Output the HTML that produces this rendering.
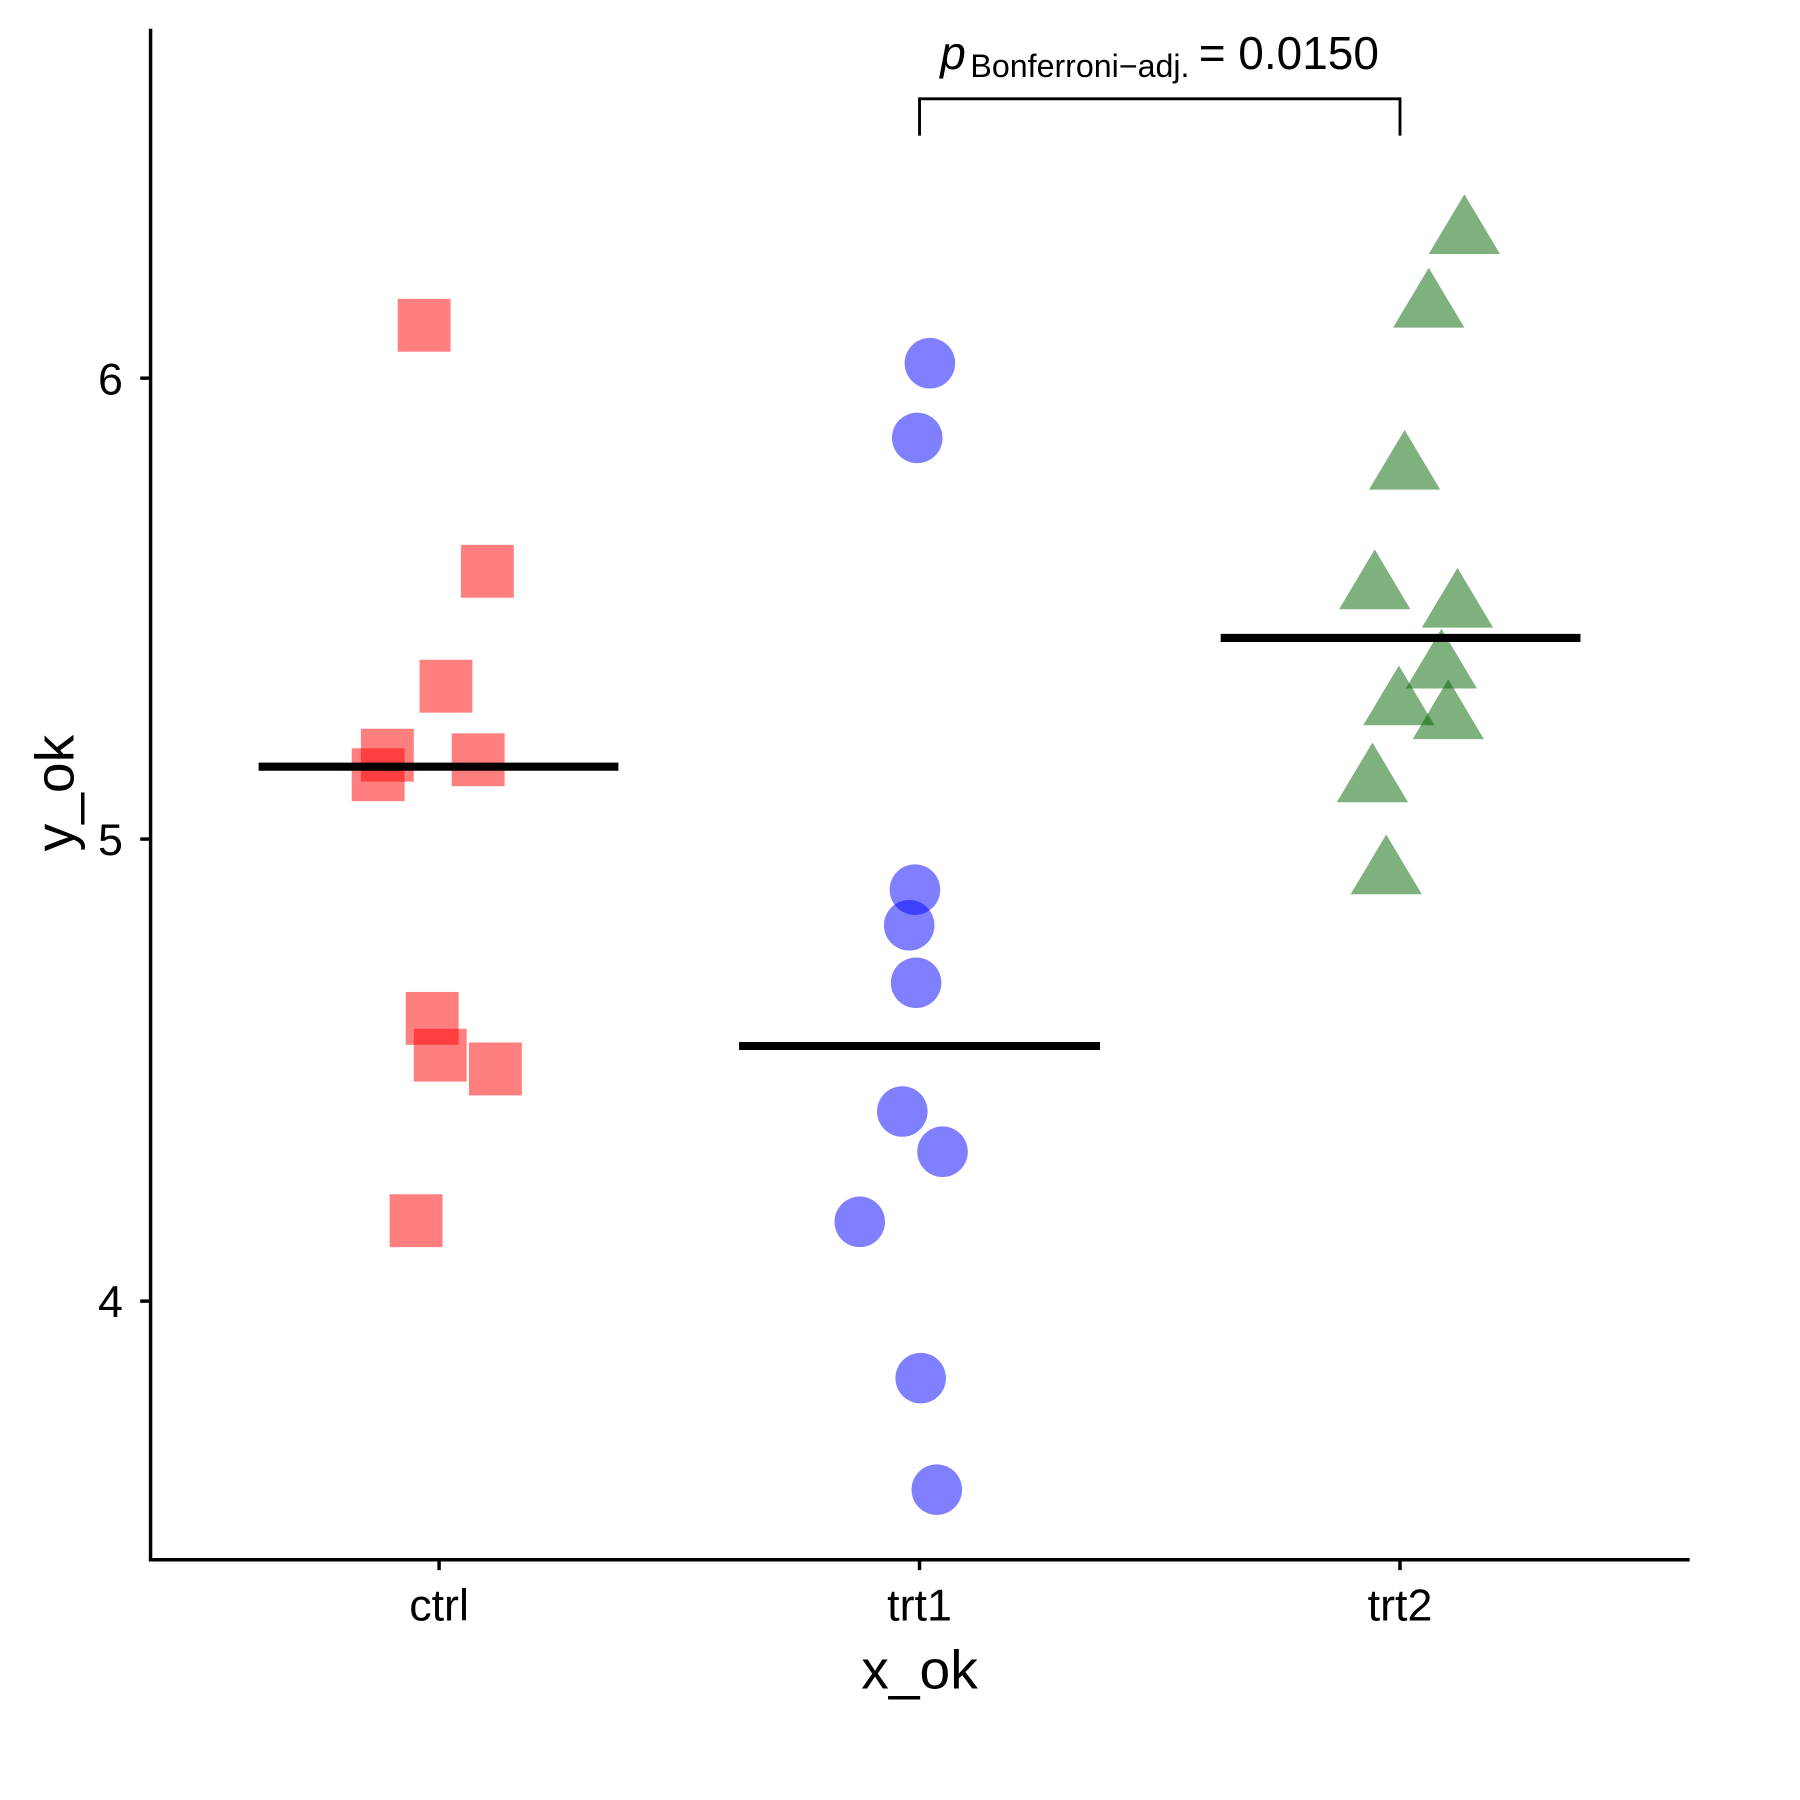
<!DOCTYPE html>
<html><head><style>html,body{margin:0;padding:0;background:#fff}svg{display:block}</style></head>
<body>
<svg width="1800" height="1800" viewBox="0 0 1566 1566" xmlns="http://www.w3.org/2000/svg" font-family="Liberation Sans, Arial, sans-serif">
<rect width="1566" height="1566" fill="#fff"/>
<g fill="#ff0000" fill-opacity="0.5">
<rect x="346" y="260" width="46" height="46"/>
<rect x="401" y="474" width="46" height="46"/>
<rect x="365" y="574" width="46" height="46"/>
<rect x="314" y="634" width="46" height="46"/>
<rect x="306" y="651" width="46" height="46"/>
<rect x="393" y="638" width="46" height="46"/>
<rect x="353" y="863" width="46" height="46"/>
<rect x="360" y="895" width="46" height="46"/>
<rect x="408" y="907" width="46" height="46"/>
<rect x="339" y="1039" width="46" height="46"/>
</g>
<g fill="#0000ff" fill-opacity="0.5">
<circle cx="809" cy="316" r="22"/>
<circle cx="798" cy="381" r="22"/>
<circle cx="796" cy="774" r="22"/>
<circle cx="791" cy="805" r="22"/>
<circle cx="797" cy="855" r="22"/>
<circle cx="785" cy="967" r="22"/>
<circle cx="820" cy="1002" r="22"/>
<circle cx="748" cy="1063" r="22"/>
<circle cx="801" cy="1199" r="22"/>
<circle cx="815" cy="1296" r="22"/>
</g>
<g fill="#006400" fill-opacity="0.5">
<polygon points="1274,169 1305,221 1243,221"/>
<polygon points="1243,233 1274,285 1212,285"/>
<polygon points="1222,374 1253,426 1191,426"/>
<polygon points="1196,478 1227,530 1165,530"/>
<polygon points="1268,494 1299,546 1237,546"/>
<polygon points="1254,547 1285,599 1223,599"/>
<polygon points="1217,579 1248,631 1186,631"/>
<polygon points="1260,591 1291,643 1229,643"/>
<polygon points="1194,646 1225,698 1163,698"/>
<polygon points="1206,726 1237,778 1175,778"/>
</g>
<g stroke="#000" stroke-width="7">
<line x1="225" y1="667" x2="538" y2="667"/>
<line x1="643" y1="910" x2="957" y2="910"/>
<line x1="1062" y1="555" x2="1375" y2="555"/>
</g>
<g stroke="#000" stroke-width="3" fill="none">
<line x1="131" y1="25" x2="131" y2="1358"/>
<line x1="129.5" y1="1357" x2="1470" y2="1357"/>
<line x1="122" y1="329" x2="131" y2="329"/>
<line x1="122" y1="730" x2="131" y2="730"/>
<line x1="122" y1="1132" x2="131" y2="1132"/>
<line x1="382" y1="1357" x2="382" y2="1366"/>
<line x1="800" y1="1357" x2="800" y2="1366"/>
<line x1="1218" y1="1357" x2="1218" y2="1366"/>
<polyline points="800,118 800,86 1218,86 1218,118" stroke-width="2.5"/>
</g>
<g font-size="39" fill="#000">
<text x="107" y="343" text-anchor="end">6</text>
<text x="107" y="744" text-anchor="end">5</text>
<text x="107" y="1146" text-anchor="end">4</text>
<text x="382" y="1410" text-anchor="middle">ctrl</text>
<text x="800" y="1410" text-anchor="middle">trt1</text>
<text x="1218" y="1410" text-anchor="middle">trt2</text>
</g>
<text x="800" y="1469" font-size="48" text-anchor="middle">x_ok</text>
<text transform="translate(64,690) rotate(-90)" font-size="48" text-anchor="middle">y_ok</text>
<text x="818" y="60" font-size="40"><tspan font-style="italic">p</tspan><tspan font-size="28" dy="7" dx="4">Bonferroni−adj.</tspan><tspan dy="-7" dx="8">= 0.0150</tspan></text>
</svg>
</body></html>
